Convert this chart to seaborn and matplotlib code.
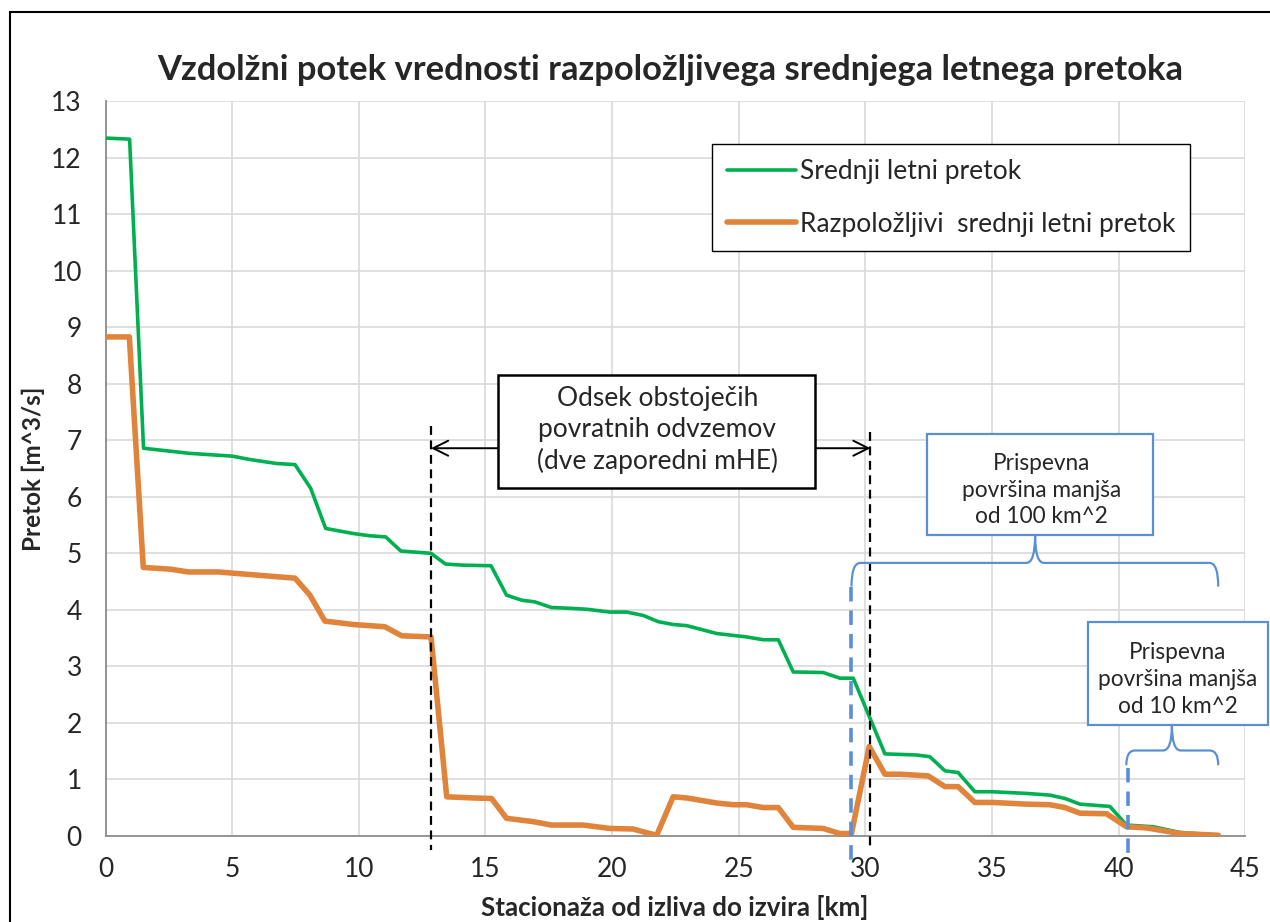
import numpy as np
import pandas as pd
import seaborn as sns
import matplotlib.pyplot as plt
from matplotlib.patches import Rectangle, PathPatch
from matplotlib.path import Path

# Srednji letni pretok (green)
km_mean = [0.0, 0.95, 1.5, 3.3, 5.0, 5.7, 6.75, 7.48, 8.1, 8.69, 9.78, 10.44, 11.06, 11.66,
           12.85, 13.42, 14.12, 15.22, 15.83, 16.43, 16.95, 17.61, 18.2, 18.99, 19.91, 20.57,
           21.23, 21.82, 22.41, 22.94, 24.13, 25.31, 25.96, 26.56, 27.15, 28.33, 28.99, 29.52,
           30.77, 32.02, 32.54, 33.14, 33.66, 34.32, 34.98, 36.36, 37.28, 37.88, 38.47, 39.65,
           40.31, 41.36, 42.41, 43.93]
q_mean = [12.35, 12.33, 6.86, 6.77, 6.72, 6.66, 6.59, 6.57, 6.15, 5.44, 5.35, 5.31, 5.29, 5.04,
          5.0, 4.81, 4.79, 4.78, 4.26, 4.17, 4.14, 4.04, 4.03, 4.01, 3.96, 3.96,
          3.9, 3.79, 3.74, 3.72, 3.58, 3.52, 3.47, 3.47, 2.9, 2.89, 2.79, 2.79,
          1.45, 1.43, 1.40, 1.15, 1.12, 0.78, 0.78, 0.75, 0.72, 0.66, 0.56, 0.52,
          0.19, 0.16, 0.06, 0.01]

# Razpolozljivi srednji letni pretok (orange)
km_avail = [0.0, 0.94, 1.49, 2.54, 3.27, 4.45, 6.36, 7.48, 8.07, 8.66, 9.78, 11.03, 11.69,
            12.85, 13.47, 14.52, 15.24, 15.83, 16.89, 17.61, 18.86, 19.91, 20.83, 21.23, 21.76,
            22.41, 22.94, 24.13, 24.78, 25.31, 25.96, 26.56, 27.15, 28.33, 28.99, 29.45, 30.15,
            30.77, 31.36, 32.48, 33.14, 33.66, 34.32, 35.05, 36.36, 37.28, 37.88, 38.47, 39.52,
            40.31, 41.10, 42.41, 43.93]
q_avail = [8.83, 8.83, 4.75, 4.72, 4.67, 4.67, 4.60, 4.56, 4.26, 3.80, 3.74, 3.70, 3.54,
           3.52, 0.69, 0.67, 0.66, 0.31, 0.25, 0.19, 0.19, 0.13, 0.12, 0.07, 0.01,
           0.69, 0.67, 0.58, 0.55, 0.55, 0.50, 0.50, 0.15, 0.13, 0.04, 0.04, 1.58,
           1.09, 1.09, 1.06, 0.87, 0.87, 0.59, 0.59, 0.56, 0.55, 0.50, 0.40, 0.39,
           0.16, 0.14, 0.04, 0.01]

series_names = ["Srednji letni pretok", "Razpoložljivi  srednji letni pretok"]
x_ticks = [0, 5, 10, 15, 20, 25, 30, 35, 40, 45]
y_ticks = list(range(0, 14))

# section of existing diversions and contributing-area markers (km)
bypass_start, bypass_end = 12.85, 30.2
area100_start, area10_start, area_end = 29.45, 40.35, 43.93

GREEN = "#00b050"
ORANGE = "#e0843c"
BLUE = "#5b8fd5"
TXT = "#262626"

sns.set_theme(style="whitegrid")
plt.rcParams['font.family'] = ['Lato', 'DejaVu Sans']

df_mean = pd.DataFrame({"km": km_mean, "q": q_mean})
df_avail = pd.DataFrame({"km": km_avail, "q": q_avail})

fig = plt.figure(figsize=(12.7, 9.22), dpi=100)
ax = fig.add_axes([0.0831, 0.0935, 0.8975, 0.7966])

sns.lineplot(data=df_mean, x="km", y="q", ax=ax, sort=False, estimator=None,
             color=GREEN, linewidth=2.6, label=series_names[0], zorder=3)
sns.lineplot(data=df_avail, x="km", y="q", ax=ax, sort=False, estimator=None,
             color=ORANGE, linewidth=4.0, label=series_names[1], zorder=3)

ax.set_xlim(0, 45)
ax.set_ylim(0, 13)
ax.set_xticks(x_ticks)
ax.set_yticks(y_ticks)
ax.set_xlabel("")
ax.set_ylabel("")
ax.grid(True, color="#d9d9d9", linewidth=1.2)
ax.set_facecolor("white")
for s in ["top", "right"]:
    ax.spines[s].set_visible(False)
for s in ["left", "bottom"]:
    ax.spines[s].set_color("#8c8c8c")
    ax.spines[s].set_linewidth(1.3)
ax.tick_params(axis="both", length=0, pad=17, labelsize=19, labelcolor=TXT)
ax.tick_params(axis="x", pad=15)

leg = ax.legend(loc="upper left", bbox_to_anchor=(0.5325, 0.9415), borderaxespad=0,
                fontsize=19, frameon=True, fancybox=False, framealpha=1,
                edgecolor="black", handlelength=2.6, handletextpad=0.15,
                labelspacing=1.05, borderpad=0.55)
leg.get_frame().set_linewidth(1.0)
for t in leg.get_texts():
    t.set_color(TXT)

# black dashed bounds of existing diversions
for xv, ytop in [(bypass_start, 7.25), (bypass_end, 7.15)]:
    ax.plot([xv, xv], [ytop, -0.25], color="black", linestyle=(0, (4, 2.5)),
            linewidth=1.6, clip_on=False, zorder=4)
ax.annotate("", xy=(bypass_start, 6.86), xytext=(bypass_end, 6.86),
            arrowprops=dict(arrowstyle="<->,head_length=0.9,head_width=0.45",
                            color="black", linewidth=1.4, shrinkA=0, shrinkB=0), zorder=4)
ax.add_patch(Rectangle((15.5, 6.15), 12.5, 2.01, facecolor="white", edgecolor="black",
                       linewidth=1.8, zorder=5))
ax.text(21.79, 7.18, "Odsek obstoječih\npovratnih odvzemov\n(dve zaporedni mHE)",
        ha="center", va="center", fontsize=19, color=TXT, linespacing=1.3, zorder=6)

# blue dashed markers of contributing area
for xv, ytop in [(area100_start, 4.41), (area10_start, 1.2)]:
    ax.plot([xv, xv], [ytop, -0.43], color=BLUE, linestyle=(0, (4, 2.5)),
            linewidth=2.6, clip_on=False, zorder=4)


def brace(x0, x1, xm, y, drop, rise):
    r = 0.35
    verts = [(x0, y - drop), (x0, y), (x0 + r, y),
             (xm - r, y), (xm, y), (xm, y + rise),
             (xm, y), (xm + r, y),
             (x1 - r, y), (x1, y), (x1, y - drop)]
    codes = [Path.MOVETO, Path.CURVE3, Path.CURVE3,
             Path.LINETO, Path.CURVE3, Path.CURVE3,
             Path.CURVE3, Path.CURVE3,
             Path.LINETO, Path.CURVE3, Path.CURVE3]
    ax.add_patch(PathPatch(Path(verts, codes), facecolor="none", edgecolor=BLUE,
                           linewidth=1.6, clip_on=False, zorder=4))


brace(area100_start, area_end, 36.7, 4.83, 0.42, 0.49)
brace(area10_start - 0.05, area_end, 42.1, 1.51, 0.26, 0.45)

ax.add_patch(Rectangle((32.44, 5.32), 8.92, 1.80, facecolor="white", edgecolor=BLUE,
                       linewidth=1.6, zorder=5, clip_on=False))
ax.text(36.96, 6.12, "Prispevna\npovršina manjša\nod 100 km^2", ha="center", va="center",
        fontsize=16.3, color=TXT, linespacing=1.35, zorder=6)
ax.add_patch(Rectangle((38.77, 1.96), 7.13, 1.82, facecolor="white", edgecolor=BLUE,
                       linewidth=1.6, zorder=5, clip_on=False))
ax.text(42.34, 2.76, "Prispevna\npovršina manjša\nod 10 km^2", ha="center", va="center",
        fontsize=16.3, color=TXT, linespacing=1.35, zorder=6)

fig.text(670 / 1270, 1 - 70 / 922, "Vzdolžni potek vrednosti razpoložljivega srednjega letnega pretoka",
         ha="center", va="center", fontsize=24.8, fontweight="bold", color=TXT)
fig.text(33 / 1270, 1 - 469 / 922, "Pretok [m^3/s]", ha="center", va="center",
         rotation=90, fontsize=17.5, fontweight="bold", color=TXT)
fig.text(675 / 1270, 1 - 907 / 922, "Stacionaža od izliva do izvira [km]", ha="center",
         va="center", fontsize=18.7, fontweight="bold", color=TXT)

# outer frame of the embedded chart
fig.add_artist(Rectangle((10 / 1270, -0.05), 1.0, 1 - 12 / 922 + 0.05, transform=fig.transFigure,
                         fill=False, edgecolor="black", linewidth=1.5))

fig.savefig("out.png", dpi=100, facecolor="white")
